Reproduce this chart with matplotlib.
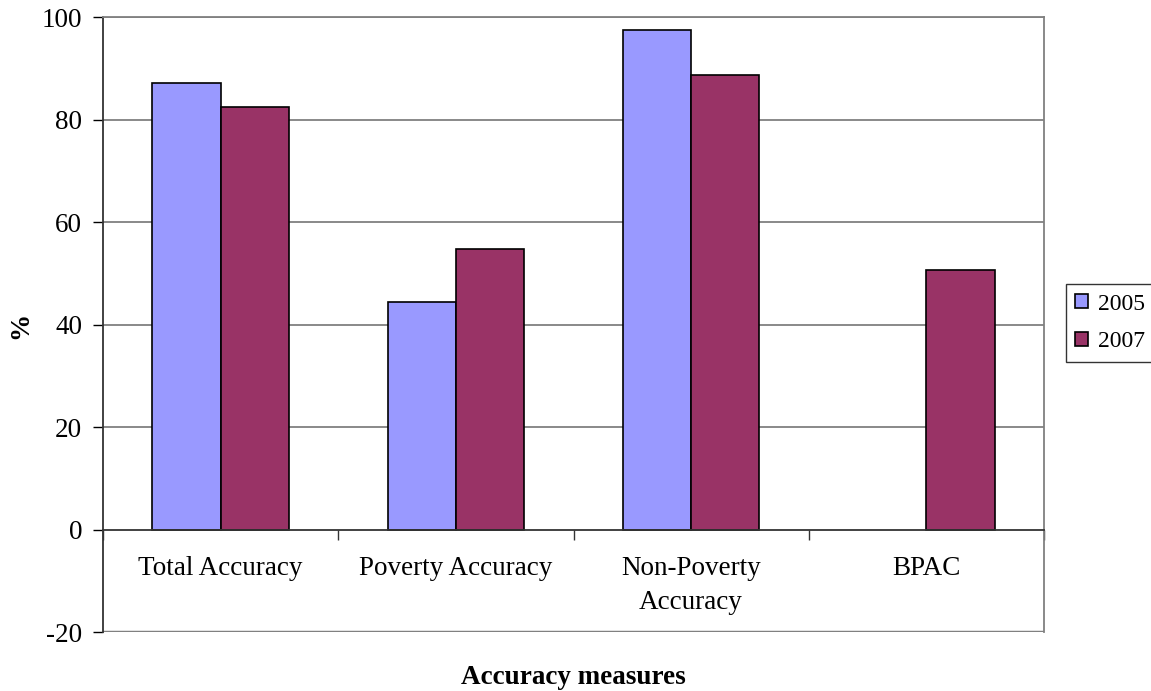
import numpy as np
from matplotlib import pyplot as plt
from matplotlib.ticker import FixedLocator

categories = ["Total Accuracy", "Poverty Accuracy", "Non-Poverty\nAccuracy", "BPAC"]
series_names = ["2005", "2007"]
values_2005 = [87.2, 44.4, 97.4, np.nan]
values_2007 = [82.4, 54.7, 88.6, 50.7]
y_ticks = [-20, 0, 20, 40, 60, 80, 100]

colors = ["#9999FF", "#993366"]
font = "Liberation Serif"
fsize = 19.5

plt.rcParams["font.family"] = [font, "DejaVu Serif"]
plt.rcParams["axes.unicode_minus"] = False

fig = plt.figure(figsize=(11.51, 6.91), dpi=100)
ax = fig.add_axes([103 / 1151, 1 - 632 / 691, (1044 - 103) / 1151, (632 - 17) / 691])

x = np.arange(len(categories))
width = 0.29
for i, (name, vals) in enumerate(zip(series_names, [values_2005, values_2007])):
    ax.bar(x + (i - 0.5) * width, vals, width, color=colors[i],
           edgecolor="black", linewidth=1.2, label=name, zorder=3)

ax.set_xlim(-0.5, len(categories) - 0.5)
ax.set_ylim(-20, 100)
ax.set_yticks(y_ticks)
ax.tick_params(axis="y", direction="out", length=7, width=1, pad=8,
               labelsize=fsize, colors="black")

# horizontal grid, gray border around the plot area
for yv in y_ticks[2:]:
    ax.axhline(yv, color="#808080", linewidth=1.3, zorder=1)
ax.axhline(-20, color="#808080", linewidth=2.5, zorder=1)
ax.spines["top"].set_color("#808080")
ax.spines["right"].set_color("#808080")
ax.spines["top"].set_linewidth(1.3)
ax.spines["right"].set_linewidth(1.3)
ax.spines["left"].set_color("#333333")
ax.spines["left"].set_linewidth(1.3)

# category axis sits on zero
ax.spines["bottom"].set_position(("data", 0))
ax.spines["bottom"].set_color("#333333")
ax.spines["bottom"].set_linewidth(1.3)
ax.spines["bottom"].set_zorder(4)
ax.set_xticks(x)
ax.set_xticklabels(categories, fontsize=fsize, linespacing=1.5)
ax.tick_params(axis="x", which="major", length=0, pad=19)
ax.xaxis.set_minor_locator(FixedLocator(np.arange(len(categories) + 1) - 0.5))
ax.tick_params(axis="x", which="minor", direction="out", length=7, width=1,
               color="#333333")

fig.text(21 / 1151, 1 - 325 / 691, "%", rotation=90, fontsize=fsize,
         fontweight="bold", ha="center", va="center")
fig.text((103 + 1044) / 2 / 1151, 1 - 677 / 691, "Accuracy measures",
         fontsize=fsize, fontweight="bold", ha="center", va="center")

leg = fig.legend(loc="center left", bbox_to_anchor=(1066 / 1151, 1 - 323 / 691),
                 fontsize=17, frameon=True, fancybox=False,
                 handlelength=0.55, handleheight=0.55, handletextpad=0.4,
                 borderpad=0.4, labelspacing=0.7, borderaxespad=0)
leg.get_frame().set_edgecolor("black")
leg.get_frame().set_linewidth(1.0)

fig.savefig("out.png", dpi=100)
